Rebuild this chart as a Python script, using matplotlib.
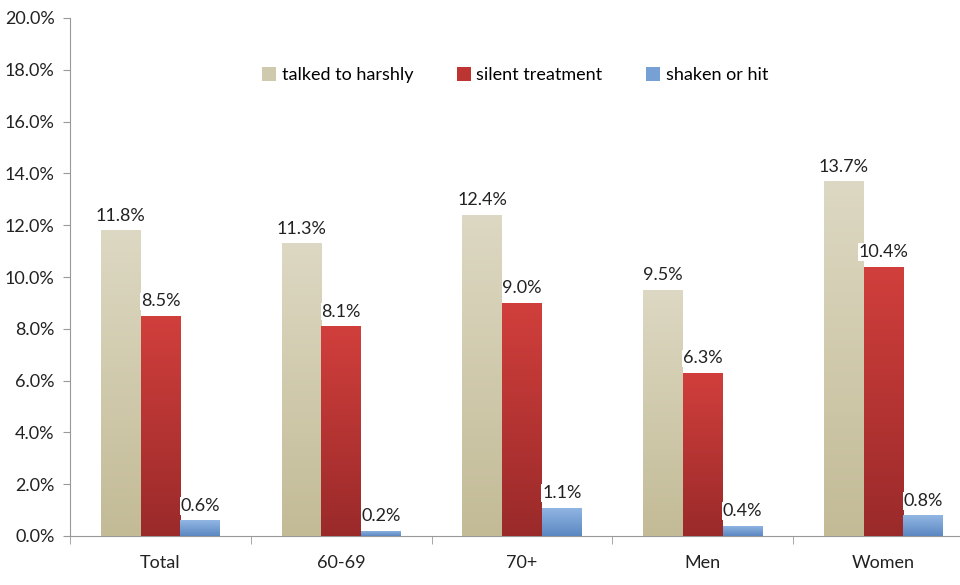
import numpy as np
import matplotlib
matplotlib.use("Agg")
import matplotlib.pyplot as plt
from matplotlib.colors import LinearSegmentedColormap
from matplotlib.patches import Patch

plt.rcParams['font.family'] = ['Lato', 'DejaVu Sans']

categories = ["Total", "60-69", "70+", "Men", "Women"]
series = ["talked to harshly", "silent treatment", "shaken or hit"]
harsh = [11.8, 11.3, 12.4, 9.5, 13.7]
silent = [8.5, 8.1, 9.0, 6.3, 10.4]
shaken = [0.6, 0.2, 1.1, 0.4, 0.8]
values = [harsh, silent, shaken]
# top colour, bottom colour for each series
grads = [("#ddd8c3", "#c3bb96"), ("#d13f3c", "#9a2a2a"), ("#92b7e4", "#5b87c1")]

fig = plt.figure(figsize=(9.6, 5.85), dpi=100)
ax = fig.add_axes([70/960, (585-536)/585, 904/960, (536-18)/585])

x = np.arange(len(categories))
w = 0.22
for k, (vals, (ctop, cbot)) in enumerate(zip(values, grads)):
    cmap = LinearSegmentedColormap.from_list("g%d" % k, [cbot, ctop])
    bars = ax.bar(x + (k - 1) * w, vals, width=w, color=cbot, edgecolor="none", zorder=2)
    for b, v in zip(bars, vals):
        x0 = b.get_x()
        grad = np.linspace(0, 1, 256).reshape(-1, 1)
        im = ax.imshow(grad, cmap=cmap, origin="lower", aspect="auto",
                       extent=[x0, x0 + b.get_width(), 0, v], zorder=3)
        im.set_clip_path(b)
        ax.text(x0 + b.get_width() / 2, v + 0.25, "%.1f%%" % v, ha="center", va="bottom",
                fontsize=13, color="#222222", zorder=5,
                bbox=dict(facecolor="white", edgecolor="none", pad=0.5))

ax.set_xlim(-0.5, 4.5)
ax.set_ylim(0, 20)
ax.set_yticks(np.arange(0, 21, 2))
ax.set_yticklabels(["%.1f%%" % t for t in np.arange(0, 21, 2)])
ax.set_xticks(x)
ax.set_xticklabels(categories)
ax.set_xticks(np.arange(-0.5, 5, 1), minor=True)
ax.tick_params(axis="x", which="major", length=0, pad=14, labelsize=13, colors="#222222")
ax.tick_params(axis="x", which="minor", length=6, color="#999999")
ax.tick_params(axis="y", length=5, color="#999999", labelsize=13, labelcolor="#222222", pad=6)
for s in ["top", "right"]:
    ax.spines[s].set_visible(False)
for s in ["left", "bottom"]:
    ax.spines[s].set_color("#999999")

handles = [Patch(facecolor=c, edgecolor="none") for c in ["#cfc9ad", "#bd3533", "#77a0d4"]]
fig.legend(handles, series, loc="center", bbox_to_anchor=(515/960, 1 - 75/585), ncol=3,
           frameon=False, fontsize=13, handlelength=0.8, handleheight=0.8,
           handletextpad=0.3, columnspacing=2.4)

fig.savefig("out.png", dpi=100)
